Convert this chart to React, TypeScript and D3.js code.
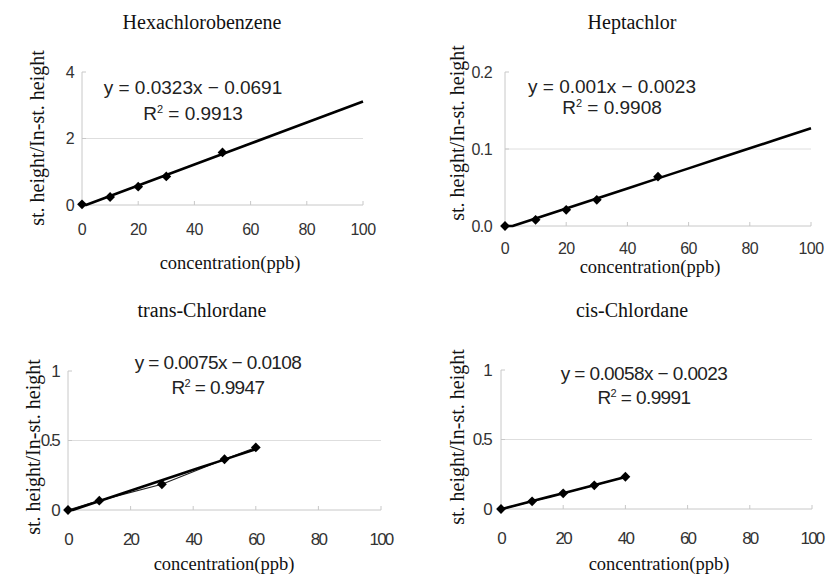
import { line, scaleLinear, symbol, symbolSquare, mean, sum, max } from "d3";

// ---- data ----
const titles = ["Hexachlorobenzene", "Heptachlor", "trans-Chlordane", "cis-Chlordane"];

const hexaConc = [0, 10, 20, 30, 50];
const hexaRatio = [0.02, 0.24, 0.55, 0.86, 1.58];
const heptaConc = [0, 10, 20, 30, 50];
const heptaRatio = [0, 0.008, 0.021, 0.034, 0.064];
const transConc = [0, 10, 30, 50, 60];
const transRatio = [0, 0.067, 0.185, 0.365, 0.45];
const cisConc = [0, 10, 20, 30, 40];
const cisRatio = [0, 0.055, 0.113, 0.17, 0.232];

const equations = [
  "y = 0.0323x − 0.0691",
  "y = 0.001x − 0.0023",
  "y = 0.0075x − 0.0108",
  "y = 0.0058x − 0.0023"
];
const rSquared = ["0.9913", "0.9908", "0.9947", "0.9991"];

const xTicks = [0, 20, 40, 60, 80, 100];
const yTicks = [[0, 2, 4], [0, 0.1, 0.2], [0, 0.5, 1], [0, 0.5, 1]];
const yTickLabels = [["0", "2", "4"], ["0.0", "0.1", "0.2"], ["0", "0.5", "1"], ["0", "0.5", "1"]];
// top charts forecast the trend to 100, bottom ones only span the data
const trendForecast = [true, true, false, false];
const dataLineShown = [false, false, true, true];

const series = [
  { x: hexaConc, y: hexaRatio },
  { x: heptaConc, y: heptaRatio },
  { x: transConc, y: transRatio },
  { x: cisConc, y: cisRatio }
];

// ---- layout (pixels) ----
const layout = [
  { left: 82, right: 363, top: 72, bottom: 205, titleX: 202, titleY: 22, yLabelX: 37, yLabelY: 138, tickRight: 74, xTickY: 229, xTitleX: 230, xTitleY: 263, eqX: 193, eqY: 87, r2Y: 113, narrow: false },
  { left: 505, right: 811, top: 72, bottom: 226, titleX: 632, titleY: 22, yLabelX: 457, yLabelY: 133, tickRight: 492, xTickY: 248, xTitleX: 650, xTitleY: 267, eqX: 612, eqY: 86, r2Y: 107, narrow: false },
  { left: 68, right: 381, top: 371, bottom: 510, titleX: 202, titleY: 310, yLabelX: 33, yLabelY: 447, tickRight: 59, xTickY: 539, xTitleX: 224, xTitleY: 564, eqX: 218, eqY: 362, r2Y: 387, narrow: true },
  { left: 501, right: 812, top: 370, bottom: 509, titleX: 632, titleY: 310, yLabelX: 457, yLabelY: 437, tickRight: 491, xTickY: 538, xTitleX: 659, xTitleY: 564, eqX: 644, eqY: 373, r2Y: 397, narrow: true }
];

const serif = "'Liberation Serif', 'Times New Roman', serif";
const sans = "'Liberation Sans', Arial, sans-serif";
const axisColor = "#c8c8c8";
const gridColor = "#dedede";

function fit(xs: number[], ys: number[]) {
  const mx = mean(xs) ?? 0;
  const my = mean(ys) ?? 0;
  const sxy = sum(xs.map((x, i) => (x - mx) * (ys[i] - my)));
  const sxx = sum(xs.map((x) => (x - mx) * (x - mx)));
  const slope = sxy / sxx;
  return { slope, intercept: my - slope * mx };
}

const diamond = symbol(symbolSquare, 48)() ?? "";

function Panel({ index }: { index: number }) {
  const L = layout[index];
  const s = series[index];
  const ticks = yTicks[index];
  const x = scaleLinear().domain([0, 100]).range([L.left, L.right]);
  const y = scaleLinear().domain([0, ticks[ticks.length - 1]]).range([L.bottom, L.top]);
  const pts = s.x.map((c, i) => [c, s.y[i]] as [number, number]);
  const { slope, intercept } = fit(s.x, s.y);
  const trendEnd = trendForecast[index] ? 100 : max(s.x) ?? 100;
  const trendPts: [number, number][] = [0, 1, 2, 3, 4, 5, 6, 7, 8, 9, 10].map((k) => {
    const c = (trendEnd * k) / 10;
    return [c, Math.max(0, slope * c + intercept)];
  });
  // include the axis crossing point so the clipped segment is flat
  const cross = -intercept / slope;
  if (cross > 0 && cross < trendEnd) trendPts.push([cross, 0]);
  trendPts.sort((a, b) => a[0] - b[0]);
  const path = line<[number, number]>()
    .x((d) => x(d[0]))
    .y((d) => y(d[1]));
  const tickFont = L.narrow
    ? { fontFamily: sans, fontSize: 17, letterSpacing: -1.8 }
    : { fontFamily: sans, fontSize: 16, letterSpacing: -0.6 };

  return (
    <g>
      <text x={L.titleX} y={L.titleY} dy="0.35em" textAnchor="middle" fontFamily={serif} fontSize={20} fill="#111">
        {titles[index]}
      </text>
      <text
        transform={`translate(${L.yLabelX}, ${L.yLabelY}) rotate(-90)`}
        dy="0.35em"
        textAnchor="middle"
        fontFamily={serif}
        fontSize={20}
        fill="#111"
      >
        st. height/In-st. height
      </text>

      {ticks.slice(1, -1).map((t) => (
        <line key={`g${t}`} x1={L.left} x2={L.right} y1={y(t)} y2={y(t)} stroke={gridColor} strokeWidth={1} />
      ))}
      <line x1={L.left} x2={L.right} y1={L.bottom} y2={L.bottom} stroke={axisColor} strokeWidth={1} />
      <line x1={L.left} x2={L.left} y1={L.top} y2={L.bottom} stroke={axisColor} strokeWidth={1} />
      {xTicks.map((t) => (
        <g key={`x${t}`}>
          <line x1={x(t)} x2={x(t)} y1={L.bottom} y2={L.bottom - 4} stroke={axisColor} strokeWidth={1} />
          <text x={x(t)} y={L.xTickY} dy="0.35em" textAnchor="middle" fill="#333" {...tickFont}>
            {t}
          </text>
        </g>
      ))}
      {ticks.map((t, i) => (
        <g key={`y${t}`}>
          <line x1={L.left} x2={L.left + 4} y1={y(t)} y2={y(t)} stroke={axisColor} strokeWidth={1} />
          <text x={L.tickRight} y={y(t)} dy="0.35em" textAnchor="end" fill="#333" {...tickFont}>
            {yTickLabels[index][i]}
          </text>
        </g>
      ))}
      <text x={L.xTitleX} y={L.xTitleY} dy="0.35em" textAnchor="middle" fontFamily={serif} fontSize={18.5} fill="#111">
        concentration(ppb)
      </text>

      {dataLineShown[index] ? (
        <path d={path(pts) ?? ""} fill="none" stroke="#222" strokeWidth={1.2} />
      ) : null}
      <path d={path(trendPts) ?? ""} fill="none" stroke="#000" strokeWidth={2.6} strokeLinejoin="round" />
      {pts.map((p, i) => (
        <path key={i} d={diamond} transform={`translate(${x(p[0])}, ${y(p[1])}) rotate(45)`} fill="#000" />
      ))}

      <text x={L.eqX} y={L.eqY} dy="0.35em" textAnchor="middle" fontFamily={sans} fontSize={19} fill="#222" letterSpacing={L.narrow ? -0.6 : 0}>
        {equations[index]}
      </text>
      <text x={L.eqX} y={L.r2Y} dy="0.35em" textAnchor="middle" fontFamily={sans} fontSize={19} fill="#222" letterSpacing={L.narrow ? -0.6 : 0}>
        R<tspan fontSize={11} dy={-7}>2</tspan>
        <tspan dy={7}> = {rSquared[index]}</tspan>
      </text>
    </g>
  );
}

export default function App() {
  return (
    <svg
      width={827}
      height={574}
      viewBox="0 0 827 574"
      style={{ position: "absolute", left: 0, top: 0, background: "#fff" }}
    >
      <rect width={827} height={574} fill="#fff" />
      {titles.map((_, i) => (
        <Panel key={i} index={i} />
      ))}
    </svg>
  );
}
